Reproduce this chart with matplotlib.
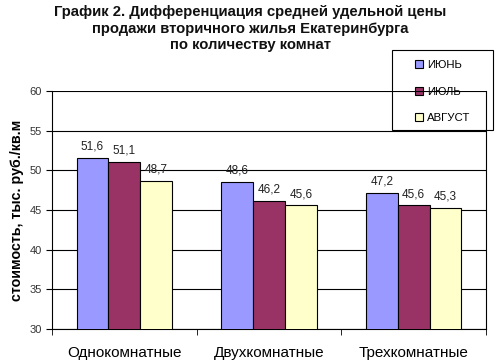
import matplotlib
matplotlib.use("Agg")
from matplotlib import pyplot as plt
from matplotlib.patches import Rectangle
import numpy as np

plt.rcParams['font.family'] = ['Liberation Sans', 'DejaVu Sans']

categories = ["Однокомнатные", "Двухкомнатные", "Трехкомнатные"]
series_names = ["ИЮНЬ", "ИЮЛЬ", "АВГУСТ"]
june = [51.6, 48.6, 47.2]
july = [51.1, 46.2, 45.6]
august = [48.7, 45.6, 45.3]
colors = ["#9999FF", "#993366", "#FFFFCC"]

fig = plt.figure(figsize=(5, 3.6), dpi=100)
ax = fig.add_axes([0.104, 0.086, 0.868, 0.661])
ax.patch.set_visible(False)  # so the legend below the gridlines still shows

x = np.arange(len(categories))
width = 0.22
for i, (vals, name) in enumerate(zip([june, july, august], series_names)):
    pos = x + (i - 1) * width
    ax.bar(pos, vals, width, bottom=0, color=colors[i], edgecolor="black",
           linewidth=0.8, label=name, zorder=3)
    for xp, v in zip(pos, vals):
        ax.text(xp, v + 0.6, f"{v:.1f}".replace(".", ","), ha="center", va="bottom",
                fontsize=8.5, color="#222222", zorder=4)

ax.set_ylim(30, 60)
ax.set_xlim(-0.5, 2.5)
ax.set_yticks(range(30, 61, 5))
ax.yaxis.grid(True, color="black", linewidth=0.8, zorder=0)
ax.set_xticks(x)
ax.set_xticklabels(categories, fontsize=11)
ax.set_xticks([-0.5, 0.5, 1.5, 2.5], minor=True)
ax.tick_params(axis="x", which="major", length=0, pad=12)
ax.tick_params(axis="x", which="minor", length=4, direction="out")
ax.tick_params(axis="y", labelsize=8, labelcolor="#333333", length=4)
ax.spines["top"].set_visible(False)
for s in ["left", "bottom", "right"]:
    ax.spines[s].set_linewidth(0.8)
ax.set_ylabel("стоимость, тыс. руб./кв.м", fontsize=10.3, fontweight="bold", labelpad=4)

fig.suptitle("График 2. Дифференциация средней удельной цены\n"
             "продажи вторичного жилья Екатеринбурга\nпо количеству комнат",
             x=0.5, y=0.985, fontsize=10.7, fontweight="bold", linespacing=1.2,
             color="#111111")

# legend box drawn separately, under the plot lines like in the original
box = Rectangle((0.784, 0.639), 0.202, 0.222, transform=fig.transFigure,
                facecolor="white", edgecolor="black", linewidth=0.8, zorder=-2)
fig.patches.append(box)
leg = fig.legend(loc="center", bbox_to_anchor=(0.885, 0.745),
                 fontsize=8.2, frameon=False, handlelength=0.7, handleheight=0.7,
                 labelspacing=1.45, handletextpad=0.4, borderaxespad=0)
leg.set_zorder(-1)

fig.savefig("out.png", dpi=100)
